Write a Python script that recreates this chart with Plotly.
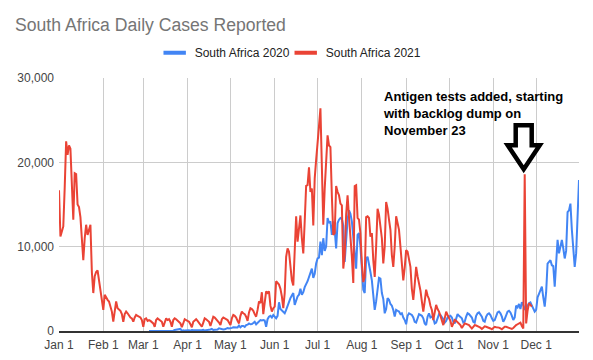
import pandas as pd
import plotly.graph_objects as go

# ---------------- data ----------------
# South Africa 2020 daily cases, starting 2020-03-05
sa2020_start = "2020-03-05"
sa2020 = [
    1, 0, 0, 1, 4, 6, 3,
    4, 8, 14, 13, 11, 23, 31,
    34, 52, 38, 34, 128, 152, 155,
    218, 243, 17, 93, 48, 73, 27,
    82, 43, 123, 79, 69, 63, 96, 80, 101, 96,
    148, 50, 99, 111, 89, 178, 251, 124, 143, 169,
    165, 318, 267, 187, 174, 197, 234, 354, 297,
    # May
    380, 370, 440, 430, 430, 420, 650, 440, 590, 600,
    480, 700, 750, 900, 800, 820, 950, 1100, 800, 1000,
    1200, 1300, 1250, 1300, 1250, 500, 1400, 1700, 1800, 1600, 1900,
    # June
    1700, 1500, 1800, 3400, 2600, 2400, 2300, 2100, 2500,
    3000, 3500, 3900, 4200, 4500, 3100, 3600, 4100, 4300, 5000,
    4300, 4600, 5200, 5500, 5900, 6400, 7000, 7400, 6300, 6800, 8000,
    # July
    8600, 8700, 10600, 9000, 11000, 9500, 10000, 13400, 12800, 13000,
    11400, 13000, 12000, 9800, 12800, 13200, 13400, 13300, 12500, 8200,
    11500, 13200, 14300, 13900, 13000, 11000, 9500, 7400, 11400, 11600, 10000,
    # August
    7200, 4900, 4500, 8600, 8800, 7600, 7000, 6000, 4400, 2500,
    3500, 5000, 6300, 6200, 4500, 3800, 2100, 2600, 3900, 3700,
    3200, 3000, 2500, 1700, 2500, 2400, 2300, 2000, 2100, 1600, 1300,
    # September
    800, 1800, 2100, 2000, 1900, 1600, 1100, 1000, 1600, 2000,
    1900, 1800, 1500, 900, 700, 1700, 2100, 1600, 1700, 1500,
    900, 1000, 1500, 2000, 1900, 1700, 1400, 1000, 1200, 1600,
    # October
    1700, 1800, 1600, 1100, 900, 1500, 2000, 1800, 1600, 1500,
    1000, 1100, 1700, 2100, 2000, 1800, 1600, 1100, 1000, 1800,
    2100, 2200, 1900, 1700, 1200, 1100, 1700, 2000, 2100, 1900, 1500,
    # November
    1200, 1300, 1900, 2200, 2300, 2100, 1700, 1100, 1400, 2000,
    2300, 2400, 2200, 1800, 1300, 1600, 3000, 2800, 3200, 2600,
    3400, 3100, 2600, 2700, 3000, 3300, 3400, 3000, 2500, 2300,
    # December
    2500, 4000, 4400, 4800, 5250, 4000, 2900, 4600, 8000, 8200,
    8400, 7800, 7700, 5250, 7900, 10800, 9200, 10000, 10800, 9800,
    8600, 9500, 14100, 14300, 15100, 12000, 10000, 7600, 9200, 14000, 17900,
]

# South Africa 2021 daily cases, starting 2021-01-01
sa2021_start = "2021-01-01"
sa2021 = [
    16700, 11200, 11800, 12400, 17000, 22500, 20900, 22000, 21600, 17000,
    13200, 18700, 18600, 15000, 14700, 13500, 10500, 8400, 11000, 12600,
    11400, 12000, 12600, 7000, 4500, 6500, 7000, 7200, 6000, 5000,
    4000, 2500, 4300, 3900, 3700, 3500, 2900, 2300, 1100, 2500,
    3500, 2700, 2600, 2400, 2000, 1100, 2000, 2300, 2100, 1800,
    1600, 1500, 1100, 1600, 1900, 1800, 1700, 1600, 1300, 500,
    1400, 1500, 1200, 1300, 1200, 1100, 900, 500, 1300, 1500,
    1400, 1200, 1100, 500, 1000, 1500, 1300, 1400, 1100, 500,
    1300, 1500, 1400, 1200, 1100, 900, 450, 1000, 1400, 1300,
    1200, 1100, 800, 450, 1100, 1300, 1400, 1200, 1000, 800,
    500, 1000, 1500, 1400, 1300, 1100, 600, 1200, 1700, 1600,
    1400, 1300, 1000, 700, 1400, 1600, 1500, 1400, 1300, 1000,
    700, 1500, 1900, 1800, 1600, 1200, 900, 1800, 2300, 2100,
    2000, 1700, 1200, 2200, 2700, 2600, 2400, 2000, 1700, 2500,
    3500, 3300, 4600, 2000, 3800, 4700, 4500, 4700, 3000, 2300,
    2700, 2900, 5900, 5700, 5500, 5000, 4100, 2700, 4500, 8800,
    9800, 9400, 7400, 6000, 5400, 9000, 13600, 10600, 12000, 13700,
    11000, 9200, 13000, 17200, 17300, 19400, 16500, 16900, 12500, 18100,
    20300, 22000, 24300, 26400, 18000, 12600, 16900, 20300, 23200, 22000,
    21800, 16000, 11400, 11600, 17200, 16500, 16100, 15100, 14900, 7400,
    9000, 13800, 16100, 13500, 11400, 8800, 5700, 17200, 17300, 13400,
    13200, 11600, 8000, 5800, 6400, 13500, 13600, 13400, 11200, 11600,
    8400, 6400, 10000, 14500, 13800, 12500, 11000, 8000, 10000, 15300,
    14500, 13200, 12000, 9000, 7600, 10000, 13600, 12800, 12000, 10000,
    8000, 6000, 7500, 9600, 9400, 8400, 7600, 5000, 3700, 5500,
    7600, 6500, 5800, 4800, 3500, 2300, 3500, 4900, 4200, 3800,
    3000, 2500, 1300, 2200, 3100, 2600, 2300, 1800, 1200, 700,
    1500, 2300, 1900, 1600, 1200, 500, 1000, 1300, 1200, 1000,
    900, 700, 350, 600, 900, 850, 800, 700, 500, 300,
    500, 700, 650, 600, 500, 400, 250, 400, 550, 500,
    450, 400, 300, 200, 300, 500, 450, 450, 400, 300,
    200, 350, 500, 500, 450, 400, 300, 250, 350, 600,
    700, 800, 900, 1000, 600, 300, 18586, 900, 2400, 3300,
    3100, 2900,
]

series_names = ["South Africa 2020", "South Africa 2021"]
series_colors = ["#4285F4", "#EA4335"]
y_ticks = [0, 10000, 20000, 30000]
display_year = 2021
annotation_date = "2021-11-23"
annotation_text = "Antigen tests added, starting<br>with backlog dump on<br>November 23"

# map both years onto one shared calendar (day of year)
d2020 = pd.date_range(sa2020_start, periods=len(sa2020), freq="D")
x2020 = [d.replace(year=display_year) for d in d2020]
x2021 = list(pd.date_range(sa2021_start, periods=len(sa2021), freq="D"))

FONT = "Arial, 'Liberation Sans', sans-serif"

fig = go.Figure()
for name, xs, ys, col in [(series_names[0], x2020, sa2020, series_colors[0]),
                          (series_names[1], x2021, sa2021, series_colors[1])]:
    fig.add_trace(go.Scatter(x=xs, y=ys, mode="lines", name=name,
                             line=dict(color=col, width=2), showlegend=False,
                             hoverinfo="x+y"))
# legend entries (short thick swatch like the original), one legend box each
for name, col, lg in zip(series_names, series_colors, ["legend", "legend2"]):
    fig.add_trace(go.Scatter(x=[None], y=[None], mode="markers", name=name,
                             legend=lg,
                             marker=dict(symbol="line-ew-open", size=16, color=col,
                                         line=dict(color=col, width=4))))

# annotation arrow anchored on the spike
spike_idx = x2021.index(pd.Timestamp(annotation_date))
spike_val = sa2021[spike_idx]
arrow_path = "M -9,49 L 7,49 L 7,29 L 15,29 L -1,5 L -17,29 L -9,29 Z"
fig.add_shape(type="path", path=arrow_path, xref="x", yref="y",
              xsizemode="pixel", ysizemode="pixel",
              xanchor=x2021[spike_idx], yanchor=spike_val,
              line=dict(color="black", width=4.5), fillcolor="white", layer="above")

fig.add_annotation(text="<b>" + annotation_text + "</b>", xref="paper", yref="paper",
                   x=0.620, y=0.965, xanchor="left", yanchor="top", align="left",
                   showarrow=False, font=dict(family=FONT, size=13, color="black"))

legend_common = dict(orientation="h", xanchor="left", y=1.1, yanchor="middle",
                     font=dict(family=FONT, size=12, color="#222"),
                     bgcolor="rgba(0,0,0,0)", itemclick=False, itemdoubleclick=False)

fig.update_layout(
    width=593, height=360,
    margin=dict(l=59, r=14, t=78, b=29),
    paper_bgcolor="white", plot_bgcolor="white",
    font=dict(family=FONT, size=12, color="#444"),
    title=dict(text="South Africa Daily Cases Reported", x=15/593, xanchor="left",
               xref="container", yref="container", y=1 - 25/360, yanchor="middle",
               font=dict(family=FONT, size=17.6, color="#757575")),
    legend=dict(x=0.184, **legend_common),
    legend2=dict(x=0.436, **legend_common),
    xaxis=dict(type="date", range=["2021-01-01", "2021-12-31"],
               dtick="M1", tick0="2021-01-01", tickformat="%b %-d",
               showgrid=True, gridcolor="#cccccc", gridwidth=1,
               showline=True, linecolor="#333333", linewidth=1.5,
               ticks="", ticklabelstandoff=2,
               tickfont=dict(size=12, color="#444"), zeroline=False,
               automargin=False),
    yaxis=dict(range=[0, 30000], tickvals=y_ticks, tickformat=",",
               showgrid=True, gridcolor="#cccccc", gridwidth=1,
               zeroline=False, showline=False, ticks="", ticklabelstandoff=4,
               tickfont=dict(size=12, color="#444"), automargin=False),
)

fig.write_html("out.html", config={"displayModeBar": False},
               post_script="document.body.style.margin='0';")
